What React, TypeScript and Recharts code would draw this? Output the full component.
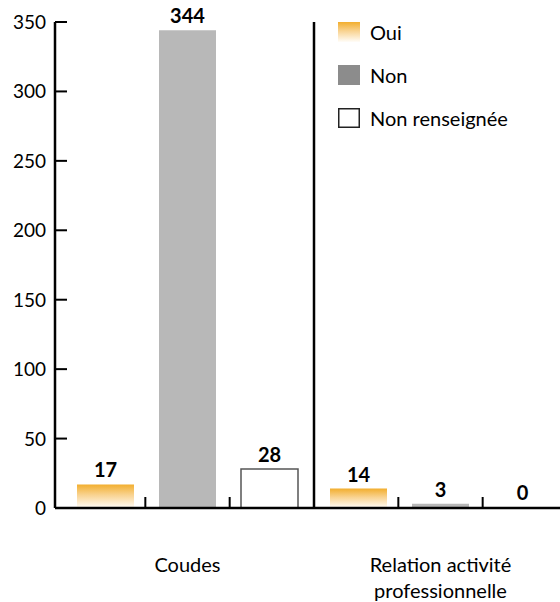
import React from 'react';
import { BarChart, Bar, XAxis, YAxis, LabelList, ReferenceArea, Legend, Rectangle } from 'recharts';

const categories = ['Coudes', 'Relation activité professionnelle'];
const categoryLines = [['Coudes'], ['Relation activité', 'professionnelle']];
const oui = [17, 14];
const non = [344, 3];
const nonRenseignee = [28, 0];
const yTicks = [0, 50, 100, 150, 200, 250, 300, 350];
const seriesNames = ['Oui', 'Non', 'Non renseignée'];

const data = categories.map((c, i) => ({
  name: c,
  oui: oui[i],
  non: non[i],
  nr: nonRenseignee[i],
}));

const FONT = 'Lato, "Open Sans", sans-serif';

const YTick = (props: any) => {
  const { x, y, payload } = props;
  return (
    <text x={x} y={y} dy={7} textAnchor="end" fontSize={19} fontFamily={FONT} fill="#000">
      {payload.value}
    </text>
  );
};

const XTick = (props: any) => {
  const { x, y, payload } = props;
  const idx = categories.indexOf(payload.value);
  const lines = idx >= 0 ? categoryLines[idx] : [payload.value];
  return (
    <g>
      {lines.map((l: string, i: number) => (
        <text key={i} x={x} y={y + 64 + i * 26} textAnchor="middle" fontSize={20} fontFamily={FONT} fill="#000">
          {l}
        </text>
      ))}
    </g>
  );
};

// slot ticks inside a category band and the group separator at its right edge
const SlotMarks = (props: any) => {
  const { x, y, width, height, last, slots } = props;
  if (![x, y, width, height].every((v) => typeof v === 'number' && isFinite(v))) return <g />;
  const bottom = y + height;
  const marks = [];
  for (let k = 1; k < slots; k++) {
    const xx = x + (width * k) / slots;
    marks.push(<line key={'k' + k} x1={xx} x2={xx} y1={bottom - 11} y2={bottom} stroke="#000" strokeWidth={2} />);
  }
  if (!last) {
    marks.push(<line key="sep" x1={x + width} x2={x + width} y1={y} y2={bottom} stroke="#000" strokeWidth={2.5} />);
  }
  return <g>{marks}</g>;
};

const Swatch = ({ kind }: { kind: string }) => {
  if (kind === 'oui') return <rect x={0} y={0} width={22} height={20} fill="url(#gradOui)" />;
  if (kind === 'non') return <rect x={0} y={0} width={22} height={20} fill="#8C8C8C" />;
  return <rect x={0.75} y={0.75} width={20.5} height={18.5} fill="#fff" stroke="#222" strokeWidth={1.5} />;
};

const renderLegend = (props: any) => {
  const items = [...(props.payload || [])].sort(
    (a: any, b: any) => seriesNames.indexOf(a.value) - seriesNames.indexOf(b.value)
  );
  return (
    <div style={{ fontFamily: FONT }}>
      {items.map((entry: any, i: number) => (
        <div key={i} style={{ display: 'flex', alignItems: 'center', height: 20, marginBottom: 23 }}>
          <svg width={22} height={20} style={{ display: 'block' }}>
            <Swatch kind={entry.dataKey} />
          </svg>
          <span style={{ marginLeft: 10, fontSize: 20, color: '#000', lineHeight: '20px' }}>{entry.value}</span>
        </div>
      ))}
    </div>
  );
};

const NonZeroBar = (props: any) => {
  const v = props.value;
  const span = Array.isArray(v) ? Math.abs(v[1] - v[0]) : Math.abs(Number(v));
  if (!span) return <g />;
  return <Rectangle {...props} />;
};

const labelStyle = { fontWeight: 700, fontSize: 20, fontFamily: FONT, fill: '#000' };

export default function App() {
  return (
    <div style={{ position: 'absolute', left: 0, top: 0, width: 560, height: 602, overflow: 'hidden', background: '#fff' }}>
      <svg width={0} height={0} style={{ position: 'absolute' }}>
        <defs>
          <linearGradient id="gradOui" x1="0" y1="0" x2="0" y2="1">
            <stop offset="0%" stopColor="#F2AE2E" />
            <stop offset="45%" stopColor="#F9D391" />
            <stop offset="100%" stopColor="#FFFDF9" />
          </linearGradient>
        </defs>
      </svg>
      <BarChart
        width={580}
        height={602}
        data={data}
        margin={{ top: 22, right: 13, left: 0, bottom: 0 }}
        barGap={25}
        barSize={57}
      >
        <XAxis
          dataKey="name"
          padding={{ left: 6, right: 0 }}
          tickLine={false}
          tickSize={0}
          tickMargin={0}
          height={94}
          axisLine={{ stroke: '#000', strokeWidth: 2.5 }}
          tick={<XTick />}
          interval={0}
        />
        <YAxis
          width={55}
          domain={[0, 350]}
          ticks={yTicks}
          interval={0}
          tickLine={{ stroke: '#000', strokeWidth: 2 }}
          tickSize={-12}
          tickMargin={21}
          axisLine={{ stroke: '#000', strokeWidth: 2.5 }}
          tick={<YTick />}
        />
        {categories.map((c, i) => (
          <ReferenceArea
            key={'area' + i}
            x1={c}
            x2={c}
            ifOverflow="visible"
            fill="none"
            stroke="none"
            shape={(p: any) => <SlotMarks {...p} last={i === categories.length - 1} slots={seriesNames.length} />}
          />
        ))}
        <Bar dataKey="oui" name={seriesNames[0]} fill="url(#gradOui)" isAnimationActive={false}>
          <LabelList dataKey="oui" position="top" offset={7} style={labelStyle} />
        </Bar>
        <Bar dataKey="non" name={seriesNames[1]} fill="#B8B8B8" isAnimationActive={false}>
          <LabelList dataKey="non" position="top" offset={7} style={labelStyle} />
        </Bar>
        <Bar
          dataKey="nr"
          name={seriesNames[2]}
          fill="#fff"
          stroke="#555"
          strokeWidth={1.5}
          minPointSize={1}
          shape={<NonZeroBar />}
          isAnimationActive={false}
        >
          <LabelList dataKey="nr" position="top" offset={7} style={labelStyle} />
        </Bar>
        <Legend
          layout="vertical"
          align="center"
          verticalAlign="middle"
          content={renderLegend}
          wrapperStyle={{ left: 338, top: 22, width: 220 }}
        />
      </BarChart>
    </div>
  );
}
